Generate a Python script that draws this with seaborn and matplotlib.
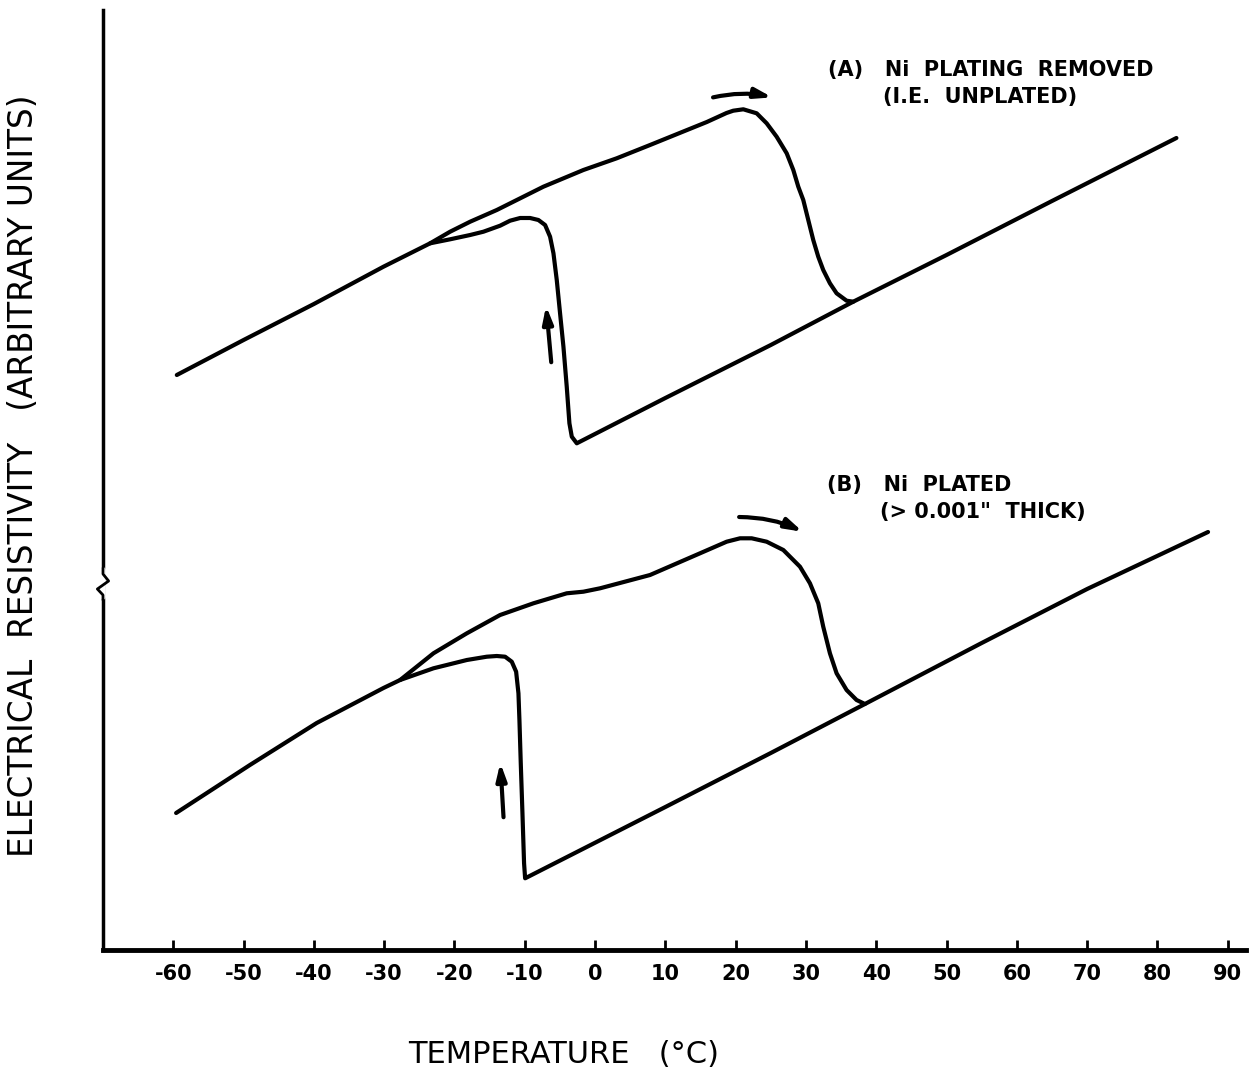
import numpy as np
import pandas as pd
import matplotlib
matplotlib.use("Agg")
import matplotlib.pyplot as plt
import seaborn as sns

# ---------------- data (temperature in deg C, resistivity in arbitrary units) -------------
# Curve A: Ni plating removed (unplated)
a_heat_T = [-59.5, -50.0, -40.0, -30.1, -23.46, -20.62, -17.77, -13.98, -7.35, -1.66, 3.08,
            7.82, 15.9, 18.7, 19.66, 21.09, 22.99, 24.41, 25.83, 27.26, 28.2, 28.91, 29.62,
            30.33, 31.04, 31.75, 32.46, 33.41, 34.36, 35.78, 36.73, 50.0, 65.0, 82.7]
a_heat_R = [57.5, 61.0, 64.6, 68.33, 70.67, 71.83, 72.83, 74.0, 76.33, 78.0, 79.17,
            80.5, 82.8, 83.7, 83.93, 84.07, 83.67, 82.67, 81.33, 79.67, 78.0, 76.33, 75.0,
            73.0, 71.0, 69.33, 68.0, 66.67, 65.67, 64.93, 64.83, 69.5, 74.9, 81.2]
a_cool_T = [-23.46, -20.62, -17.77, -15.88, -13.51, -12.09, -10.66, -9.24, -8.06, -7.11,
            -6.40, -5.92, -5.45, -4.98, -4.50, -4.03, -3.65, -3.31, -2.60, 10.0, 25.0, 36.73]
a_cool_R = [70.67, 71.07, 71.5, 71.83, 72.43, 72.93, 73.2, 73.2, 73.0, 72.5,
            71.33, 69.67, 67.0, 63.67, 60.33, 56.33, 52.67, 51.33, 50.67, 55.2, 60.5, 64.83]

# Curve B: Ni plated (> 0.001" thick)
b_heat_T = [-59.6, -49.1, -39.6, -30.1, -27.73, -22.99, -18.24, -13.51, -8.77, -4.03, -1.66,
            0.71, 7.82, 14.93, 18.72, 20.62, 22.28, 24.41, 26.78, 29.15, 30.57, 31.75, 32.46,
            33.41, 34.36, 35.78, 37.2, 38.39, 55.0, 70.0, 87.2]
b_heat_R = [13.7, 18.5, 22.7, 26.2, 27.0, 29.67, 31.67, 33.5, 34.67, 35.67, 35.83,
            36.17, 37.5, 39.67, 40.83, 41.17, 41.17, 40.83, 40.0, 38.33, 36.67, 34.67, 32.33,
            29.67, 27.67, 26.0, 25.0, 24.6, 30.7, 36.1, 41.8]
b_cool_T = [-27.73, -22.99, -18.24, -15.4, -13.98, -12.8, -11.85, -11.23, -10.9, -10.76,
            -10.57, -10.33, -10.1, -9.95, 10.0, 25.0, 38.39]
b_cool_R = [27.0, 28.17, 29.0, 29.33, 29.4, 29.33, 28.83, 27.83, 25.67, 23.0,
            18.67, 13.67, 8.67, 7.17, 14.3, 19.7, 24.6]

x_ticks = [-60, -50, -40, -30, -20, -10, 0, 10, 20, 30, 40, 50, 60, 70, 80, 90]

# ---------------- figure -------------
sns.set_style("ticks")
plt.rcParams['font.family'] = ['DejaVu Sans']
plt.rcParams.update({"text.color": "black", "axes.labelcolor": "black",
                     "xtick.color": "black", "ytick.color": "black",
                     "axes.edgecolor": "black"})

fig = plt.figure(figsize=(12.51, 10.76), dpi=100)
ax = fig.add_axes([103 / 1251, 126 / 1076, 1143 / 1251, 940 / 1076])

segments = [
    ("A heat", a_heat_T, a_heat_R),
    ("A cool", a_cool_T, a_cool_R),
    ("B heat", b_heat_T, b_heat_R),
    ("B cool", b_cool_T, b_cool_R),
]
for name, t, r in segments:
    df = pd.DataFrame({"T": t, "R": r})
    sns.lineplot(data=df, x="T", y="R", sort=False, estimator=None, ax=ax,
                 color="black", lw=3.0, solid_capstyle="round", solid_joinstyle="round")

ax.set_xlim(-70, 92.6)
ax.set_ylim(0, 94)
ax.set_xticks(x_ticks)
ax.set_xticklabels([str(v) for v in x_ticks], fontsize=15, fontweight="bold")
ax.set_yticks([])
ax.tick_params(axis="x", direction="in", length=7, width=2, pad=10)
sns.despine(ax=ax, top=True, right=True)
ax.spines["left"].set_linewidth(2.5)
ax.spines["bottom"].set_linewidth(3.5)

ax.set_xlabel("TEMPERATURE   (°C)", fontsize=22)
ax.xaxis.set_label_coords(0.403, -0.096)
ax.set_ylabel("ELECTRICAL  RESISTIVITY   (ARBITRARY UNITS)", fontsize=23.5)
ax.yaxis.set_label_coords(-0.055, 0.505)

# axis break zigzag on the y axis
zz_x = [-70, -70, -69.2, -70.8, -70, -70]
zz_y = [38.2, 37.6, 36.9, 36.1, 35.5, 35.0]
ax.plot([-70, -70], [35.3, 38.0], color="white", lw=4, clip_on=False, zorder=5)
ax.plot(zz_x, zz_y, color="black", lw=2, clip_on=False, zorder=6)

# arrows
arrow_kw = dict(arrowstyle="-|>,head_length=1.0,head_width=0.3", color="black", lw=3)
ax.annotate("", xy=(25.6, 85.2), xytext=(16.4, 85.2),
            arrowprops=dict(connectionstyle="arc3,rad=-0.12", **arrow_kw))
ax.annotate("", xy=(-7.0, 64.7), xytext=(-6.2, 58.5), arrowprops=arrow_kw)
ax.annotate("", xy=(29.9, 41.7), xytext=(20.1, 43.3),
            arrowprops=dict(connectionstyle="arc3,rad=-0.12", **arrow_kw))
ax.annotate("", xy=(-13.5, 19.0), xytext=(-13.0, 13.0), arrowprops=arrow_kw)

# curve labels
lab_kw = dict(fontsize=15, fontweight="bold", va="center", ha="left")
ax.text(33.1, 88.0, "(A)   Ni  PLATING  REMOVED", **lab_kw)
ax.text(40.9, 85.3, "(I.E.  UNPLATED)", **lab_kw)
ax.text(33.0, 46.5, "(B)   Ni  PLATED", **lab_kw)
ax.text(40.5, 43.8, "(> 0.001\"  THICK)", **lab_kw)

fig.savefig("out.png", dpi=100)
